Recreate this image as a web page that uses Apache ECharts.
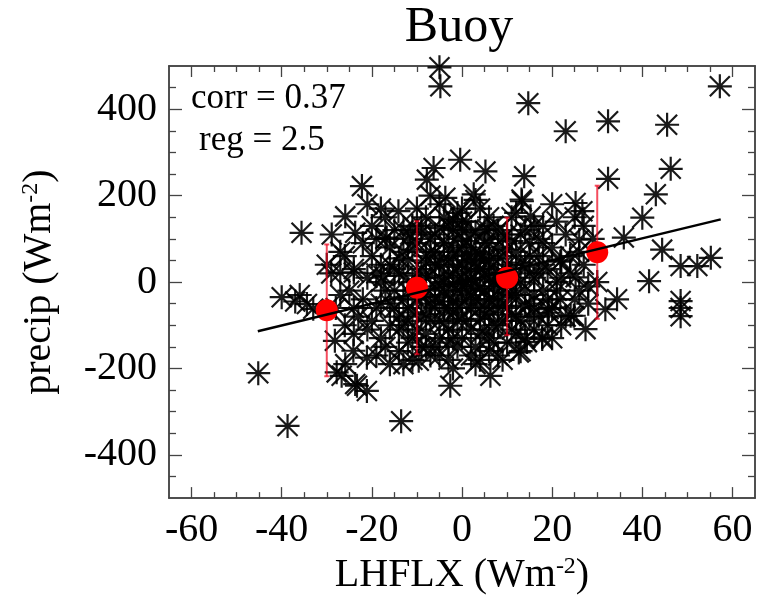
<!DOCTYPE html>
<html>
<head>
<meta charset="utf-8">
<script src="https://cdn.jsdelivr.net/npm/echarts@6/dist/echarts.min.js"></script>
<style>html,body{margin:0;padding:0;background:#fff}#main{width:759px;height:600px}</style>
</head>
<body>
<div id="main"></div>
<script>
// buoy observations: [LHFLX, precip]
const obsPoints = [
  [-5, 497], [-4.8, 453], [14.7, 414], [23, 349], [32.4, 372], [45.5, 364], [57.2, 453],
  [46.3, 262], [-0.4, 283], [5.2, 256], [13.8, 245], [32.4, 239], [43, 203], [40, 149],
  [2.6, 203], [25.2, 183], [26.7, 164], [35.9, 103], [44.4, 75], [48.5, 37], [52.2, 37],
  [55.2, 56], [41.5, 2], [13.2, 191], [15.2, 152], [5.6, 122], [48.5, -44], [48.5, -79],
  [48.5, -60], [34.4, -40], [31.8, -63], [27.4, -109], [24.8, -78], [19.2, -71], [17.8, -132],
  [12.6, -163], [6.3, -217], [-2.6, -240], [14.4, -139], [-45.2, -211], [-38.7, -333],
  [-13.5, -322], [-23.3, -240], [-21.1, -252], [-26.7, -217], [-9.6, -182], [-34.4, -51],
  [-28.2, -136], [-24.1, -159], [-21.1, -175], [-25.9, -190], [-22.2, 222], [-35.6, 114],
  [-28.9, 110], [-23.7, 114], [-25.9, 152], [-14.1, 164], [-16.7, 103], [-11.5, 110],
  [-6.3, 264], [-7.8, 237], [-3.7, 195], [13.3, 187], [-36, -30], [-33, -62], [-23.7, -236],
  [-27.8, -209], [17.8, -128], [24.1, -78], [19.2, -63], [-40, -35], [-37, -45],
  [-27, 22], [-24, 22], [-17.4, 14], [26, 98], [21.8, 47], [25.2, 11], [21.8, -40],
  [-20, 60], [-18, 40], [-17, -20], [-16, 80], [-15, -60], [-14, 20], [-13, -100], [-12, 50],
  [-12, -140], [-11, 130], [-11, 0], [-10, -40], [-10, 90], [-9, -80], [-9, 30], [-8, 150],
  [-8, -120], [-8, 10], [-7, 70], [-7, -50], [-6, 110], [-6, -10], [-6, -150], [-5, 40],
  [-5, -90], [-5, 180], [-4, 0], [-4, -60], [-4, 90], [-3, 130], [-3, -30], [-3, -110],
  [-2, 60], [-2, 20], [-2, -70], [-1, 160], [-1, -20], [-1, 100], [0, 40], [0, -50],
  [0, -130], [0, 80], [1, 0], [1, 140], [1, -90], [2, 50], [2, -30], [2, 110], [3, -10],
  [3, 70], [3, -150], [4, 30], [4, -60], [4, 170], [5, 90], [5, -20], [5, -110], [6, 50],
  [6, 10], [6, -70], [7, 130], [7, -40], [8, 80], [8, -100], [8, 20], [9, -10], [9, 60],
  [10, 110], [10, -60], [10, -140], [11, 30], [11, 150], [12, -30], [12, 70], [13, 0],
  [13, -90], [14, 40], [14, 120], [15, -50], [15, 90], [16, 10], [16, -110], [17, 60],
  [18, -20], [18, 130], [19, 30], [20, -60], [20, 80], [21, 0], [22, 50], [22, -100],
  [23, 110], [24, 20], [25, -40], [26, 70], [27, 130], [28, -10], [-22, -40], [-21, 10],
  [-20, -90], [-19, 100], [-18, -130], [-17, 150], [-16, -50], [-15, 30], [-14, -160],
  [-13, 70], [-12, -20], [-11, -70], [-10, 170], [-9, -150], [-8, -30], [-7, 200], [-6, 40],
  [-5, -170], [-4, 150], [-3, 50], [-2, -130], [-1, -90], [0, 120], [1, 60], [2, -170],
  [3, 190], [4, -120], [5, 20], [6, 150], [7, -140], [8, -60], [9, 100], [10, 40],
  [11, -110], [12, 160], [13, -160], [14, -20], [15, 20], [16, 130], [17, -80], [18, 90],
  [19, -40], [21, 140], [23, -80], [24, 60], [26, -20], [-26, 60], [-25, -20], [-24, 30],
  [-23, -80], [-22, 90], [-21, -110], [-20, 130], [-19, -60], [-18, 0], [-17, -150],
  [-16, -100], [-15, 120], [-14, -80], [-13, -40], [-12, 100], [-11, -180], [-10, -110],
  [-9, 130], [-8, 60], [-7, -90], [-6, -60], [-5, -130], [-4, -20], [-3, -180], [-2, 120],
  [-1, -150], [0, -10], [0, 170], [1, -40], [2, -110], [3, 30], [4, -180], [5, -50],
  [6, -130], [7, 0], [8, -170], [9, -90], [10, 0], [11, -30], [12, -80], [13, 110],
  [14, -130], [15, -80], [16, -30], [17, 20], [19, -100], [20, -130], [21, -20], [22, 10],
  [-28, -60], [-27, -30], [-29, 20], [-26, -100], [-24, -120], [-30, 40], [-27, 70],
  [-24, -60], [-19, -170], [-16, -190], [-13, -190], [-7, -170], [3, -190], [9, -180],
  [-2, -200], [27, 40], [29, 100], [30, 0], [28, -50], [25, 150], [20, 180], [-21, 180],
  [-18, 170],
  [-14, 55], [-13, 15], [-12, -60], [-11, 75], [-10, 20], [-10, -15], [-9, 115], [-9, -35],
  [-8, 45], [-8, -75], [-7, 15], [-7, 100], [-6, -35], [-6, 70], [-5, 10], [-5, -45],
  [-5, 125], [-4, 55], [-4, -95], [-3, 15], [-3, 85], [-3, -60], [-2, -5], [-2, 145],
  [-2, -45], [-1, 35], [-1, -60], [-1, 70], [0, 10], [0, -85], [0, 140], [1, 25], [1, -20],
  [1, 95], [2, -60], [2, 80], [2, 5], [3, 45], [3, -40], [3, 115], [4, -15], [4, 65],
  [4, -85], [5, 55], [5, 120], [5, -75], [6, -40], [6, 90], [6, 30], [7, -10], [7, 55],
  [7, -100], [8, -35], [8, 120], [9, 20], [9, -55], [10, 75], [10, -25], [11, -75], [11, 95],
  [12, 10], [12, -120], [13, 45], [14, -55], [15, 60], [-13, 120], [-12, -90], [-15, -20],
  [-16, 40], [-17, 100], [-14, -110], [-18, -50], [-19, 20], [16, -60], [17, 100], [18, 40],
  [-11, -130], [-3, -140], [6, -160], [-8, -150]
];

// binned means with spread
const binX = [-30, -10, 10, 30];
const binMean = [-65, -13, 10, 69];
const binLow = [-218, -167, -123, -85];
const binHigh = [87, 141, 149, 223];

// regression line end points
const regLine = [[-45.3, -114], [57.4, 145]];

const xMajor = [-60, -40, -20, 0, 20, 40, 60];
const xMinor = [-55, -50, -45, -35, -30, -25, -15, -10, -5, 5, 10, 15, 25, 30, 35, 45, 50, 55];
const yMajor = [-400, -200, 0, 200, 400];
const yMinor = [-450, -350, -300, -250, -150, -100, -50, 50, 100, 150, 250, 300, 350, 450];

const serif = 'Liberation Serif';
const frame = '#444';

// asterisk: horizontal, vertical and two diagonal bars
const star = 'path://M0 10.9H24V13.1H0Z M10.9 0H13.1V24H10.9Z ' +
  'M2.78 1.22L22.78 21.22L21.22 22.78L1.22 2.78Z M21.22 1.22L22.78 2.78L2.78 22.78L1.22 21.22Z';

function axis(pos, ticks, len, extra) {
  const isX = pos === 'bottom' || pos === 'top';
  return Object.assign({
    type: 'value',
    position: pos,
    min: isX ? -65 : -500,
    max: isX ? 65 : 500,
    axisLine: {show: true, onZero: false, lineStyle: {color: frame, width: 1.5}},
    axisTick: {show: true, inside: true, length: len, customValues: ticks,
      lineStyle: {color: frame, width: 1.3}},
    axisLabel: {show: false},
    splitLine: {show: false}
  }, extra || {});
}

const labelStyle = {show: true, fontFamily: serif, fontSize: 40, color: '#000'};
const nameStyle = {
  fontFamily: serif, fontSize: 40, color: '#000',
  rich: {sup: {fontFamily: serif, fontSize: 24, color: '#000', verticalAlign: 'top'}}
};

let chartDom = document.getElementById('main');
let myChart = echarts.init(chartDom);

option = {
  animation: false,
  backgroundColor: '#fff',
  grid: {left: 169, right: 4, top: 66, bottom: 101},
  graphic: [
    {type: 'text', x: 459, y: 28, style: {text: 'Buoy', fontFamily: serif, fontSize: 50,
      fill: '#000', align: 'center', verticalAlign: 'middle'}},
    {type: 'text', x: 191, y: 99, style: {text: 'corr = 0.37', fontFamily: serif, fontSize: 35,
      fill: '#000', align: 'left', verticalAlign: 'middle'}},
    {type: 'text', x: 199, y: 141, style: {text: 'reg = 2.5', fontFamily: serif, fontSize: 35,
      fill: '#000', align: 'left', verticalAlign: 'middle'}}
  ],
  xAxis: [
    axis('bottom', xMajor, 11, {
      axisLabel: Object.assign({customValues: xMajor, margin: 12}, labelStyle),
      name: 'LHFLX (Wm{sup|-2})', nameLocation: 'middle', nameGap: 56,
      nameTextStyle: nameStyle
    }),
    axis('bottom', xMinor, 6),
    axis('top', xMajor, 11),
    axis('top', xMinor, 6)
  ],
  yAxis: [
    axis('left', yMajor, 13, {
      axisLabel: Object.assign({customValues: yMajor, margin: 12}, labelStyle),
      name: 'precip (Wm{sup|-2})', nameLocation: 'middle', nameGap: 110, nameRotate: 90,
      nameTextStyle: nameStyle
    }),
    axis('left', yMinor, 7),
    axis('right', yMajor, 13),
    axis('right', yMinor, 7)
  ],
  series: [
    {
      type: 'scatter',
      data: obsPoints,
      symbol: star,
      symbolSize: 24,
      itemStyle: {color: '#000', opacity: 0.9},
      silent: true,
      z: 2
    },
    {
      type: 'custom',
      data: binX.map((x, i) => [x, binLow[i], binHigh[i]]),
      encode: {x: 0, y: [1, 2]},
      renderItem: function (params, api) {
        const lo = api.coord([api.value(0), api.value(1)]);
        const hi = api.coord([api.value(0), api.value(2)]);
        const st = {stroke: 'rgba(240,0,25,0.7)', lineWidth: 2};
        return {
          type: 'group',
          children: [
            {type: 'line', shape: {x1: lo[0], y1: lo[1], x2: hi[0], y2: hi[1]}, style: st},
            {type: 'line', shape: {x1: lo[0] - 2.5, y1: lo[1], x2: lo[0] + 2.5, y2: lo[1]}, style: st},
            {type: 'line', shape: {x1: hi[0] - 2.5, y1: hi[1], x2: hi[0] + 2.5, y2: hi[1]}, style: st}
          ]
        };
      },
      silent: true,
      z: 3
    },
    {
      type: 'scatter',
      data: binX.map((x, i) => [x, binMean[i]]),
      symbol: 'circle',
      symbolSize: 22,
      itemStyle: {color: '#ff0000', opacity: 1},
      silent: true,
      z: 4
    },
    {
      type: 'line',
      data: regLine,
      showSymbol: false,
      symbol: 'none',
      lineStyle: {color: '#000', width: 2.5},
      silent: true,
      z: 5
    }
  ]
};

option && myChart.setOption(option);
</script>
</body>
</html>
